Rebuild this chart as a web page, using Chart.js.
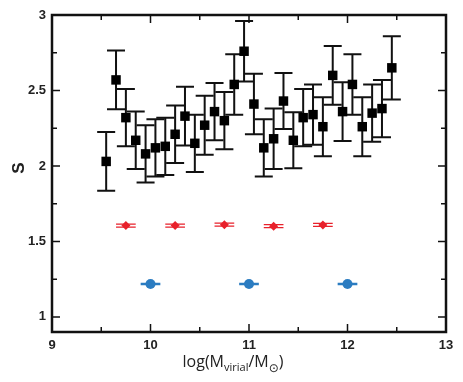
<!DOCTYPE html>
<html>
<head>
<meta charset="utf-8">
<script src="https://cdn.jsdelivr.net/npm/chart.js@4.4.0/dist/chart.umd.min.js"></script>
<style>
  html, body { margin: 0; padding: 0; background: #fff; }
</style>
</head>
<body>
<canvas id="sChart" width="463" height="382"></canvas>
<script>
// S vs log virial mass, binned
const massBins = [9.55, 9.65, 9.75, 9.85, 9.95, 10.05, 10.15, 10.25, 10.35, 10.45,
                  10.55, 10.65, 10.75, 10.85, 10.95, 11.05, 11.15, 11.25, 11.35, 11.45,
                  11.55, 11.65, 11.75, 11.85, 11.95, 12.05, 12.15, 12.25, 12.35, 12.45];
const sValues = [2.03, 2.57, 2.32, 2.17, 2.08, 2.12, 2.13, 2.21, 2.33, 2.15,
                 2.27, 2.36, 2.30, 2.54, 2.76, 2.41, 2.12, 2.18, 2.43, 2.17,
                 2.32, 2.34, 2.26, 2.60, 2.36, 2.54, 2.26, 2.35, 2.38, 2.65];
const sErrors = [0.195, 0.195, 0.19, 0.19, 0.19, 0.19, 0.19, 0.19, 0.195, 0.19,
                 0.195, 0.19, 0.19, 0.2, 0.2, 0.2, 0.19, 0.2, 0.185, 0.185,
                 0.19, 0.2, 0.195, 0.195, 0.195, 0.2, 0.195, 0.19, 0.19, 0.21];

const redX = [9.75, 10.25, 10.75, 11.25, 11.75];
const redY = [1.605, 1.605, 1.611, 1.601, 1.609];
const redXErr = [0.1, 0.1, 0.1, 0.1, 0.1];

const blueX = [10, 11, 12];
const blueY = [1.218, 1.218, 1.218];
const blueXErr = [0.1, 0.1, 0.1];

const xTicks = [9, 10, 11, 12, 13];
const xMinor = [9.5, 10.5, 11.5, 12.5];
const yTicks = [1, 1.5, 2, 2.5, 3];
const yMinor = [1.25, 1.75, 2.25, 2.75];

const RED = '#e8212b';
const BLUE = '#2b7cc1';

function pts(xs, ys) {
  return xs.map((x, i) => ({ x: x, y: ys[i] }));
}

// error bars + frame + axis titles
const decor = {
  id: 'decor',
  beforeDatasetsDraw(chart) {
    const ctx = chart.ctx;
    const xs = chart.scales.x, ys = chart.scales.y;
    ctx.save();
    // black vertical error bars
    ctx.strokeStyle = '#111';
    ctx.lineWidth = 2;
    massBins.forEach((m, i) => {
      const px = xs.getPixelForValue(m);
      const top = ys.getPixelForValue(sValues[i] + sErrors[i]);
      const bot = ys.getPixelForValue(sValues[i] - sErrors[i]);
      ctx.beginPath();
      ctx.moveTo(px, top); ctx.lineTo(px, bot);
      ctx.moveTo(px - 9, top); ctx.lineTo(px + 9, top);
      ctx.moveTo(px - 9, bot); ctx.lineTo(px + 9, bot);
      ctx.stroke();
    });
    // red horizontal bars (double line)
    ctx.strokeStyle = RED;
    ctx.lineWidth = 1.3;
    redX.forEach((x, i) => {
      const l = xs.getPixelForValue(x - redXErr[i]);
      const r = xs.getPixelForValue(x + redXErr[i]);
      const py = ys.getPixelForValue(redY[i]);
      ctx.beginPath();
      ctx.moveTo(l, py - 1.5); ctx.lineTo(r, py - 1.5);
      ctx.moveTo(l, py + 1.5); ctx.lineTo(r, py + 1.5);
      ctx.stroke();
    });
    // blue horizontal bars
    ctx.strokeStyle = BLUE;
    ctx.lineWidth = 2.5;
    blueX.forEach((x, i) => {
      const l = xs.getPixelForValue(x - blueXErr[i]);
      const r = xs.getPixelForValue(x + blueXErr[i]);
      const py = ys.getPixelForValue(blueY[i]);
      ctx.beginPath();
      ctx.moveTo(l, py); ctx.lineTo(r, py);
      ctx.stroke();
    });
    ctx.restore();
  },
  afterDraw(chart) {
    const ctx = chart.ctx;
    const a = chart.chartArea;
    const xs = chart.scales.x, ys = chart.scales.y;
    ctx.save();
    // inward ticks on all four sides
    ctx.strokeStyle = '#111';
    ctx.lineWidth = 1.5;
    ctx.beginPath();
    const xt = (v, len) => {
      const px = xs.getPixelForValue(v);
      ctx.moveTo(px, a.bottom); ctx.lineTo(px, a.bottom - len);
      ctx.moveTo(px, a.top); ctx.lineTo(px, a.top + len);
    };
    const yt = (v, len) => {
      const py = ys.getPixelForValue(v);
      ctx.moveTo(a.left, py); ctx.lineTo(a.left + len, py);
      ctx.moveTo(a.right, py); ctx.lineTo(a.right - len, py);
    };
    xTicks.forEach(v => xt(v, 8));
    xMinor.forEach(v => xt(v, 5));
    yTicks.forEach(v => yt(v, 8));
    yMinor.forEach(v => yt(v, 5));
    ctx.stroke();
    // frame
    ctx.lineWidth = 2.5;
    ctx.strokeRect(a.left, a.top, a.right - a.left, a.bottom - a.top);

    // y title
    ctx.fillStyle = '#222';
    ctx.font = 'bold 17px "Liberation Sans", Arial, sans-serif';
    ctx.textAlign = 'center';
    ctx.textBaseline = 'middle';
    ctx.translate(19, 168);
    ctx.rotate(-Math.PI / 2);
    ctx.fillText('S', 0, 0);
    ctx.setTransform(1, 0, 0, 1, 0, 0);

    // x title with subscripts
    const parts = [
      { t: 'log(M', f: '16px "Open Sans", sans-serif', dy: 0 },
      { t: 'virial', f: '11px "Open Sans", sans-serif', dy: 4 },
      { t: '/M', f: '16px "Open Sans", sans-serif', dy: 0 },
      { t: '\u2299', f: '12px "DejaVu Sans", sans-serif', dy: 5 },
      { t: ')', f: '16px "Open Sans", sans-serif', dy: 0 }
    ];
    let total = 0;
    parts.forEach(p => { ctx.font = p.f; p.w = ctx.measureText(p.t).width; total += p.w; });
    let cx = 233 - total / 2;
    ctx.textAlign = 'left';
    ctx.textBaseline = 'alphabetic';
    parts.forEach(p => {
      ctx.font = p.f;
      ctx.fillText(p.t, cx, 367 + p.dy);
      cx += p.w;
    });
    ctx.restore();
  }
};

const tickFont = { family: '"Liberation Sans", Arial, sans-serif', size: 13, weight: 'bold' };

const ctx = document.getElementById('sChart').getContext('2d');
new Chart(ctx, {
  type: 'scatter',
  data: {
    datasets: [
      {
        label: 'S',
        data: pts(massBins, sValues),
        pointStyle: 'rect',
        pointRadius: 6.7,
        backgroundColor: '#000',
        borderColor: '#000',
        borderWidth: 0
      },
      {
        label: 'red',
        data: pts(redX, redY),
        pointStyle: 'rectRot',
        pointRadius: 4.5,
        backgroundColor: RED,
        borderColor: RED,
        borderWidth: 0
      },
      {
        label: 'blue',
        data: pts(blueX, blueY),
        pointStyle: 'circle',
        pointRadius: 5,
        backgroundColor: BLUE,
        borderColor: BLUE,
        borderWidth: 0
      }
    ]
  },
  options: {
    responsive: false,
    animation: false,
    layout: { padding: { left: 0, top: 15, right: 17, bottom: 0 } },
    plugins: {
      legend: { display: false },
      tooltip: { enabled: false }
    },
    scales: {
      x: {
        type: 'linear',
        min: 9,
        max: 13,
        afterBuildTicks: s => { s.ticks = xTicks.map(v => ({ value: v })); },
        afterFit: s => { s.height = 50; },
        grid: { display: false, drawTicks: false },
        border: { display: false },
        ticks: { padding: 6, color: '#222', font: tickFont, callback: v => String(v) }
      },
      y: {
        type: 'linear',
        min: 0.9,
        max: 3,
        afterBuildTicks: s => { s.ticks = yTicks.map(v => ({ value: v })); },
        afterFit: s => { s.width = 52; },
        grid: { display: false, drawTicks: false },
        border: { display: false },
        ticks: { padding: 6, color: '#222', font: tickFont, callback: v => String(v) }
      }
    }
  },
  plugins: [decor]
});
</script>
</body>
</html>
